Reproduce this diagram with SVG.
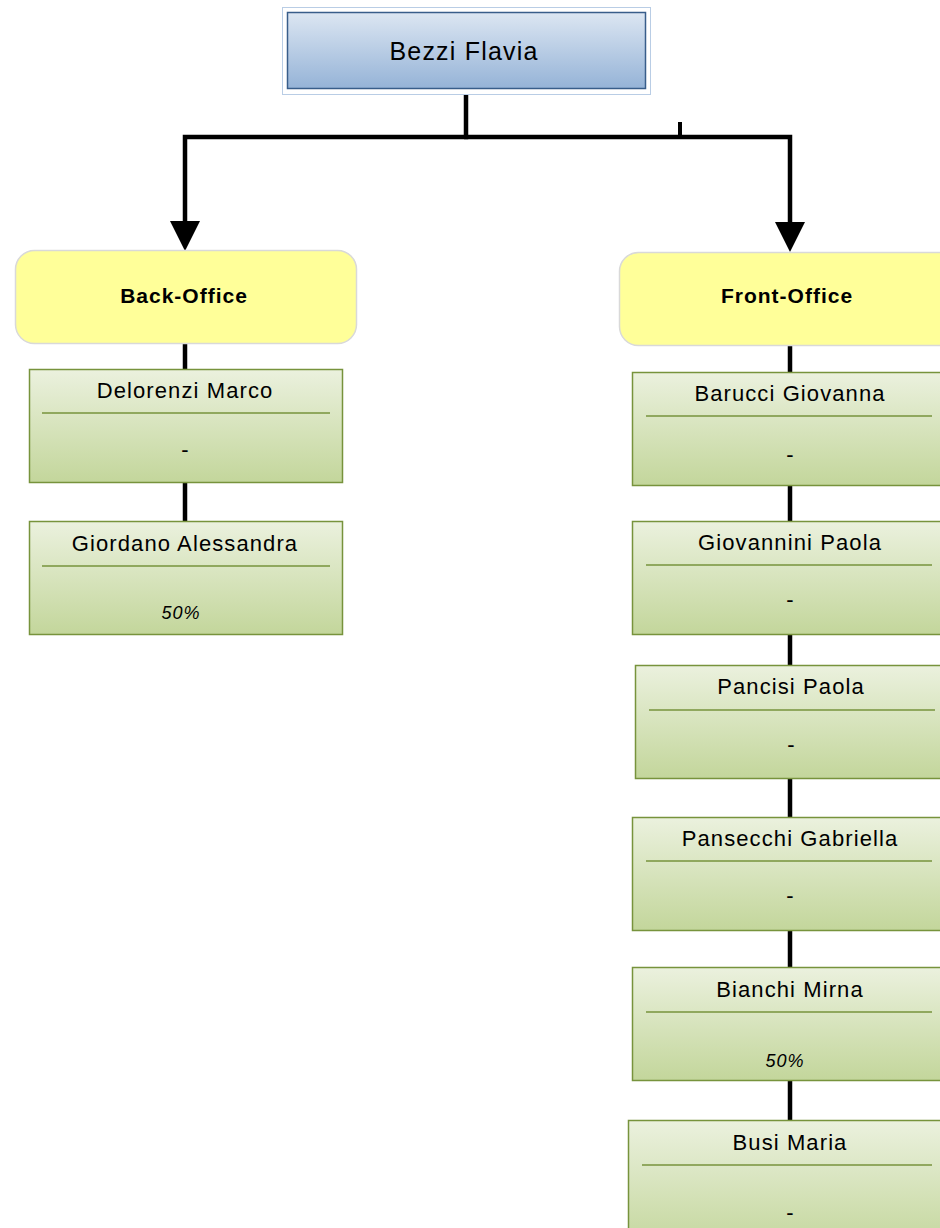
<svg xmlns="http://www.w3.org/2000/svg" width="940" height="1228" viewBox="0 0 940 1228">
<defs>
<linearGradient id="gBlue" x1="0" y1="0" x2="0" y2="1"><stop offset="0" stop-color="#dce6f2"/><stop offset="1" stop-color="#95b3d7"/></linearGradient>
<linearGradient id="gGreen" x1="0" y1="0" x2="0" y2="1"><stop offset="0" stop-color="#ebf1de"/><stop offset="1" stop-color="#c3d69b"/></linearGradient>
<marker id="arr" viewBox="0 0 30 30" refX="0" refY="15" markerWidth="30" markerHeight="30" markerUnits="userSpaceOnUse" orient="auto"><path d="M0 0 L30 15 L0 30 Z" fill="#000"/></marker>
<style>
text{font-family:"Liberation Sans",Arial,sans-serif;fill:#000;text-anchor:middle}
.name{font-size:22px;letter-spacing:1.1px}
.top{font-size:25px;letter-spacing:1.2px}
.dept{font-size:21px;font-weight:bold;letter-spacing:1px}
.pct{font-size:18px;font-style:italic;letter-spacing:1px}
.dash{font-size:22px}
.box{fill:url(#gGreen);stroke:#77933c;stroke-width:1.5}
.div{stroke:#77933c;stroke-width:1.5}
.yel{fill:#ffff99;stroke:#d9d9d9;stroke-width:1.5}
.con{fill:none;stroke:#000;stroke-width:4.5}
</style>
</defs>
<rect width="940" height="1228" fill="#fff"/>
<g id="connectors">
<path class="con" d="M466 94 V137 H185 V221" marker-end="url(#arr)"/>
<path class="con" d="M464 137 H790 V222" marker-end="url(#arr)"/>
<path d="M680 122 V137" stroke="#000" stroke-width="4"/>
<path class="con" d="M185 344 V369 M185 482 V521"/>
<path class="con" d="M790 346 V372 M790 485 V521 M790 634 V665 M790 778 V817 M790 930 V967 M790 1080 V1120"/>
</g>
<g id="n-bezzi">
<rect x="282.5" y="7.5" width="368" height="87" fill="#fff" stroke="#b9cde5" stroke-width="1"/>
<rect x="287.5" y="12.5" width="358" height="76" fill="url(#gBlue)" stroke="#385d8a" stroke-width="1.5"/>
<text class="top" x="464" y="60">Bezzi Flavia</text>
</g>
<g id="n-back">
<rect class="yel" x="15.5" y="250.5" width="341" height="93" rx="19"/>
<text class="dept" x="184" y="303">Back-Office</text>
</g>
<g id="n-delorenzi">
<rect class="box" x="29.5" y="369.5" width="313" height="113"/>
<text class="name" x="185" y="398">Delorenzi Marco</text>
<line class="div" x1="42" y1="413" x2="330" y2="413"/>
<text class="dash" x="185" y="457">-</text>
</g>
<g id="n-giordano">
<rect class="box" x="29.5" y="521.5" width="313" height="113"/>
<text class="name" x="185" y="551">Giordano Alessandra</text>
<line class="div" x1="42" y1="566" x2="330" y2="566"/>
<text class="pct" x="181" y="619">50%</text>
</g>
<g id="n-front">
<rect class="yel" x="619.5" y="252.5" width="341" height="93" rx="19"/>
<text class="dept" x="787" y="303">Front-Office</text>
</g>
<g id="n-barucci">
<rect class="box" x="632.5" y="372.5" width="313" height="113"/>
<text class="name" x="790" y="401">Barucci Giovanna</text>
<line class="div" x1="646" y1="416" x2="932" y2="416"/>
<text class="dash" x="790" y="462">-</text>
</g>
<g id="n-giovannini">
<rect class="box" x="632.5" y="521.5" width="313" height="113"/>
<text class="name" x="790" y="550">Giovannini Paola</text>
<line class="div" x1="646" y1="565" x2="932" y2="565"/>
<text class="dash" x="790" y="607">-</text>
</g>
<g id="n-pancisi">
<rect class="box" x="635.5" y="665.5" width="313" height="113"/>
<text class="name" x="791" y="694">Pancisi Paola</text>
<line class="div" x1="649" y1="710" x2="935" y2="710"/>
<text class="dash" x="791" y="752">-</text>
</g>
<g id="n-pansecchi">
<rect class="box" x="632.5" y="817.5" width="313" height="113"/>
<text class="name" x="790" y="846">Pansecchi Gabriella</text>
<line class="div" x1="646" y1="861" x2="932" y2="861"/>
<text class="dash" x="790" y="903">-</text>
</g>
<g id="n-bianchi">
<rect class="box" x="632.5" y="967.5" width="313" height="113"/>
<text class="name" x="790" y="997">Bianchi Mirna</text>
<line class="div" x1="646" y1="1012" x2="932" y2="1012"/>
<text class="pct" x="785" y="1067">50%</text>
</g>
<g id="n-busi">
<rect class="box" x="628.5" y="1120.5" width="320" height="130"/>
<text class="name" x="790" y="1150">Busi Maria</text>
<line class="div" x1="642" y1="1165" x2="932" y2="1165"/>
<text class="dash" x="790" y="1220">-</text>
</g>
</svg>
